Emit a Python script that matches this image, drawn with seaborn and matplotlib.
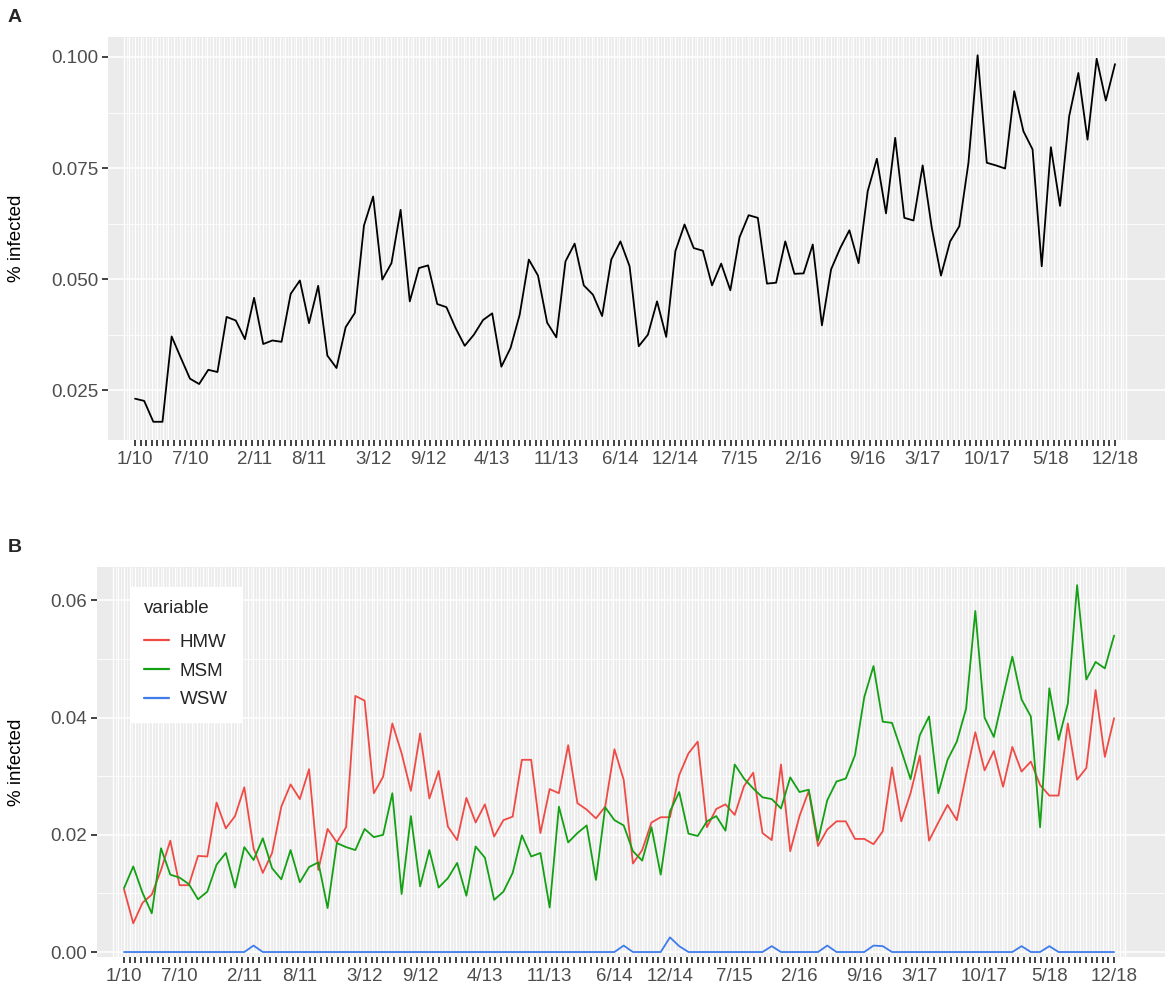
import numpy as np
import pandas as pd
import matplotlib
matplotlib.use("Agg")
import matplotlib.pyplot as plt
import seaborn as sns

# --- DATOS ---
meses = list(range(108))  # 1/10 ... 12/18, un punto por mes

pos_etiquetas = [0, 6, 13, 19, 26, 32, 39, 46, 53, 59, 66, 73, 80, 86, 93, 100, 107]
etiquetas = ["1/10", "7/10", "2/11", "8/11", "3/12", "9/12", "4/13", "11/13", "6/14",
             "12/14", "7/15", "2/16", "9/16", "3/17", "10/17", "5/18", "12/18"]

total = [0.0231, 0.0226, 0.0179, 0.0179, 0.0371, 0.0323, 0.0276, 0.0264, 0.0296, 0.0291, 0.0415, 0.0407,
         0.0365, 0.0458, 0.0354, 0.0362, 0.0359, 0.0467, 0.0497, 0.0401, 0.0485, 0.0328, 0.0300, 0.0392,
         0.0424, 0.0621, 0.0686, 0.0499, 0.0536, 0.0656, 0.0450, 0.0525, 0.0531, 0.0444, 0.0437, 0.0390,
         0.0350, 0.0375, 0.0408, 0.0423, 0.0303, 0.0345, 0.0420, 0.0544, 0.0508, 0.0402, 0.0369, 0.0540,
         0.0580, 0.0486, 0.0465, 0.0417, 0.0544, 0.0585, 0.0529, 0.0349, 0.0375, 0.0450, 0.0370, 0.0563,
         0.0623, 0.0570, 0.0564, 0.0486, 0.0535, 0.0475, 0.0594, 0.0644, 0.0638, 0.0490, 0.0492, 0.0585,
         0.0512, 0.0513, 0.0578, 0.0396, 0.0522, 0.0570, 0.0610, 0.0536, 0.0698, 0.0771, 0.0648, 0.0818,
         0.0638, 0.0632, 0.0756, 0.0615, 0.0508, 0.0585, 0.0619, 0.0762, 0.1004, 0.0762, 0.0756, 0.0749,
         0.0923, 0.0833, 0.0792, 0.0529, 0.0797, 0.0665, 0.0867, 0.0964, 0.0814, 0.0996, 0.0902, 0.0984]

hmw = [0.0107, 0.0049, 0.0084, 0.0098, 0.0140, 0.0190, 0.0114, 0.0114, 0.0164, 0.0163, 0.0255, 0.0211,
       0.0232, 0.0281, 0.0177, 0.0135, 0.0169, 0.0248, 0.0286, 0.0261, 0.0312, 0.0140, 0.0210, 0.0187,
       0.0213, 0.0437, 0.0429, 0.0271, 0.0299, 0.0390, 0.0339, 0.0275, 0.0373, 0.0262, 0.0309, 0.0214,
       0.0191, 0.0263, 0.0221, 0.0252, 0.0197, 0.0225, 0.0231, 0.0328, 0.0328, 0.0203, 0.0278, 0.0271,
       0.0353, 0.0254, 0.0243, 0.0228, 0.0248, 0.0346, 0.0294, 0.0151, 0.0174, 0.0221, 0.0230, 0.0230,
       0.0302, 0.0339, 0.0359, 0.0213, 0.0244, 0.0252, 0.0234, 0.0283, 0.0306, 0.0203, 0.0191, 0.0320,
       0.0172, 0.0232, 0.0275, 0.0181, 0.0209, 0.0223, 0.0223, 0.0193, 0.0193, 0.0184, 0.0206, 0.0315,
       0.0223, 0.0271, 0.0335, 0.0190, 0.0221, 0.0251, 0.0225, 0.0302, 0.0375, 0.0310, 0.0343, 0.0282,
       0.0350, 0.0308, 0.0325, 0.0285, 0.0267, 0.0267, 0.0390, 0.0294, 0.0314, 0.0447, 0.0333, 0.0399]

msm = [0.0109, 0.0146, 0.0101, 0.0066, 0.0177, 0.0132, 0.0127, 0.0116, 0.0090, 0.0103, 0.0149, 0.0169,
       0.0110, 0.0179, 0.0157, 0.0194, 0.0143, 0.0124, 0.0174, 0.0119, 0.0145, 0.0153, 0.0075, 0.0186,
       0.0179, 0.0174, 0.0210, 0.0196, 0.0200, 0.0271, 0.0099, 0.0232, 0.0112, 0.0174, 0.0110, 0.0126,
       0.0152, 0.0096, 0.0180, 0.0161, 0.0089, 0.0103, 0.0135, 0.0199, 0.0163, 0.0169, 0.0076, 0.0248,
       0.0187, 0.0203, 0.0216, 0.0123, 0.0247, 0.0225, 0.0216, 0.0172, 0.0156, 0.0213, 0.0132, 0.0240,
       0.0273, 0.0202, 0.0198, 0.0223, 0.0232, 0.0207, 0.0320, 0.0296, 0.0279, 0.0264, 0.0261, 0.0245,
       0.0298, 0.0273, 0.0277, 0.0190, 0.0259, 0.0291, 0.0296, 0.0336, 0.0435, 0.0488, 0.0393, 0.0391,
       0.0344, 0.0295, 0.0370, 0.0402, 0.0271, 0.0328, 0.0359, 0.0415, 0.0582, 0.0400, 0.0367, 0.0436,
       0.0504, 0.0431, 0.0402, 0.0213, 0.0450, 0.0362, 0.0424, 0.0626, 0.0465, 0.0495, 0.0484, 0.0540]

wsw = [0, 0, 0, 0, 0, 0, 0, 0, 0, 0, 0, 0,
       0, 0, 0.0011, 0, 0, 0, 0, 0, 0, 0, 0, 0,
       0, 0, 0, 0, 0, 0, 0, 0, 0, 0, 0, 0,
       0, 0, 0, 0, 0, 0, 0, 0, 0, 0, 0, 0,
       0, 0, 0, 0, 0, 0, 0.0011, 0, 0, 0, 0, 0.0025,
       0.0010, 0, 0, 0, 0, 0, 0, 0, 0, 0, 0.0010, 0,
       0, 0, 0, 0, 0.0011, 0, 0, 0, 0, 0.0011, 0.0010, 0,
       0, 0, 0, 0, 0, 0, 0, 0, 0, 0, 0, 0,
       0, 0.0010, 0, 0, 0.0010, 0, 0, 0, 0, 0, 0, 0]

grupos = ["HMW", "MSM", "WSW"]
colores = {"HMW": "#EE4B47", "MSM": "#14A014", "WSW": "#3F7CEB"}

# --- ESTILO ---
sns.set_style("white", rc={"axes.facecolor": "#EBEBEB"})
plt.rcParams["font.family"] = ["Liberation Sans", "DejaVu Sans"]

fig = plt.figure(figsize=(11.7, 9.97), dpi=100)
W, H = 1170, 997
ax_a = fig.add_axes([108 / W, 1 - 440 / H, (1165 - 108) / W, (440 - 37) / H])
ax_b = fig.add_axes([97 / W, 1 - 957 / H, (1165 - 97) / W, (957 - 567) / H])

paso = 107 / 176
ticks_finos = np.linspace(0, 107, 177)
lineas_mayores = np.arange(-2, 179) * paso
lineas_menores = (np.arange(-2, 178) + 0.5) * paso


def estilo_panel(ax, yticks, ylabels, yminor, ylim, xlim, ylab_x):
    ax.set_xlim(*xlim)
    ax.set_ylim(*ylim)
    for s in ax.spines.values():
        s.set_visible(False)
    ax.vlines(lineas_mayores, ylim[0], ylim[1], colors="white", lw=1.0, zorder=0.5)
    ax.vlines(lineas_menores, ylim[0], ylim[1], colors="white", lw=0.5, zorder=0.5)
    ax.set_yticks(yticks)
    ax.set_yticklabels(ylabels)
    ax.set_yticks(yminor, minor=True)
    ax.grid(axis="y", which="major", color="white", lw=1.1, zorder=0.6)
    ax.grid(axis="y", which="minor", color="white", lw=0.6, zorder=0.6)
    ax.grid(axis="x", visible=False)
    ax.set_axisbelow(True)
    ax.xaxis.remove_overlapping_locs = False
    ax.set_xticks(pos_etiquetas)
    ax.set_xticklabels(etiquetas)
    ax.set_xticks(ticks_finos, minor=True)
    ax.tick_params(axis="both", which="both", bottom=True, left=True, length=4, width=1.3,
                   color="#333333", labelsize=13.5, labelcolor="#4D4D4D", pad=3)
    ax.tick_params(axis="y", which="minor", length=0)
    # solo las marcas finas se ven; las etiquetas quedan debajo
    ax.tick_params(axis="x", which="major", length=0, pad=8)
    ax.set_xlabel("")
    ax.set_ylabel("% infected", fontsize=13.5, color="black")
    ax.yaxis.set_label_coords(ylab_x, 0.5)


# --- PANEL A ---
df_total = pd.DataFrame({"mes": meses, "valor": total})
sns.lineplot(data=df_total, x="mes", y="valor", color="black", lw=1.3, ax=ax_a, zorder=3)
estilo_panel(ax_a, [0.025, 0.050, 0.075, 0.100], ["0.025", "0.050", "0.075", "0.100"],
             [0.0375, 0.0625, 0.0875], (0.0138, 0.1045), (-2.95, 112.46), (25 - 108) / 1057)

# --- PANEL B ---
df_grupos = pd.DataFrame({"mes": meses * 3,
                          "valor": hmw + msm + wsw,
                          "variable": ["HMW"] * 108 + ["MSM"] * 108 + ["WSW"] * 108})
sns.lineplot(data=df_grupos, x="mes", y="valor", hue="variable", hue_order=grupos,
             palette=colores, lw=1.3, ax=ax_b, zorder=3)
estilo_panel(ax_b, [0.00, 0.02, 0.04, 0.06], ["0.00", "0.02", "0.04", "0.06"],
             [0.01, 0.03, 0.05], (-0.00085, 0.0657), (-2.92, 112.5), (25 - 97) / 1068)

leg = ax_b.legend(title="variable", loc="upper left", bbox_to_anchor=(34 / 1068, 1 - 20 / 390),
                  borderaxespad=0, frameon=True, facecolor="white", edgecolor="white",
                  fancybox=False, framealpha=1, fontsize=13.5, title_fontsize=13.5,
                  handlelength=1.3, handletextpad=0.6, labelspacing=0.62, borderpad=0.7,
                  alignment="left")
leg._legend_box.sep = 12
for linea in leg.get_lines():
    linea.set_linewidth(1.6)

fig.text(8 / W, 1 - 18 / H, "A", fontsize=14, fontweight="bold", va="center", ha="left")
fig.text(8 / W, 1 - 548 / H, "B", fontsize=14, fontweight="bold", va="center", ha="left")

plt.savefig("out.png", dpi=100)
